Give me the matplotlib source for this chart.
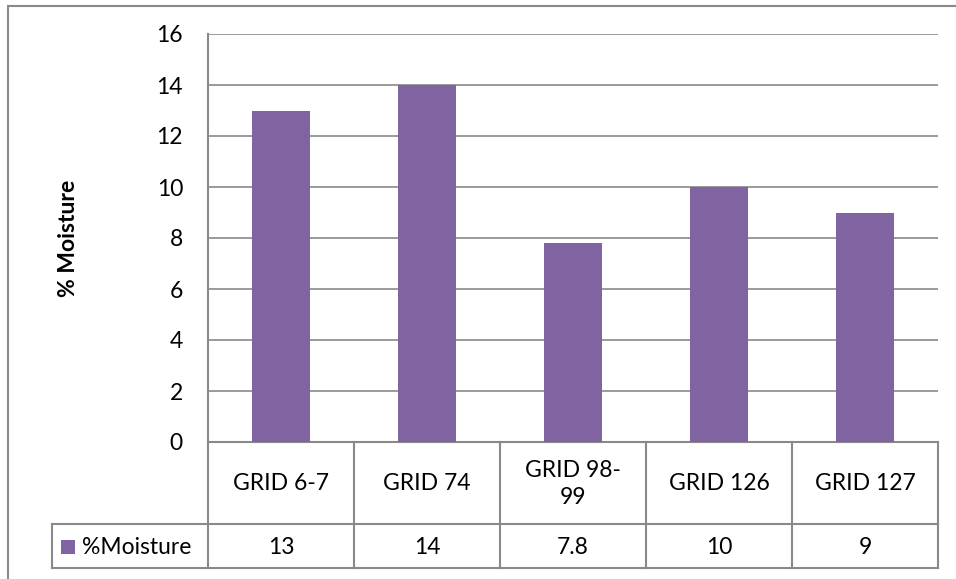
import matplotlib
matplotlib.use("Agg")
import matplotlib.pyplot as plt
from matplotlib.transforms import blended_transform_factory
from matplotlib.patches import Rectangle

categories = ["GRID 6-7", "GRID 74", "GRID 98-\n99", "GRID 126", "GRID 127"]
values = [13, 14, 7.8, 10, 9]
value_labels = ["13", "14", "7.8", "10", "9"]
series_name = "%Moisture"
y_ticks = [0, 2, 4, 6, 8, 10, 12, 14, 16]

plt.rcParams['font.family'] = ['Lato', 'DejaVu Sans']
W, H = 956, 579
fig = plt.figure(figsize=(W/100, H/100), dpi=100)
bar_color = "#8064A2"
gray = "#898989"
fs = 16.5

# outer frame
fig.patches.append(Rectangle((8/W, -0.1), 1.2, 1 - 6/H + 0.1, transform=fig.transFigure,
                             fill=False, edgecolor=gray, linewidth=1.5))

ax_l, ax_r, ax_t, ax_b = 208, 938, 34, 442
ax = fig.add_axes([ax_l/W, (H-ax_b)/H, (ax_r-ax_l)/W, (ax_b-ax_t)/H])
x = list(range(len(categories)))
ax.bar(x, values, width=0.4, color=bar_color, zorder=3)
ax.set_xlim(-0.5, len(categories)-0.5)
ax.set_ylim(0, 16)
ax.set_yticks(y_ticks)
ax.set_yticklabels([str(t) for t in y_ticks], fontsize=fs)
ax.tick_params(axis='y', length=0, pad=18)
ax.set_xticks([])
ax.grid(axis='y', color=gray, linewidth=1.2, zorder=0)
for s in ['top', 'right', 'bottom']:
    ax.spines[s].set_visible(False)
ax.spines['left'].set_color(gray)
ax.spines['left'].set_linewidth(1.5)
ax.set_ylabel("% Moisture", fontsize=fs, fontweight='bold', labelpad=56)

# data table
ah = ax_b - ax_t
aw = ax_r - ax_l
def ay(py):
    return (ax_b - py) / ah
def axx(px):
    return (px - ax_l) / aw

tb = blended_transform_factory(ax.transData, ax.transAxes)
ta = ax.transAxes
r1, r2 = ay(524), ay(568)
lw = 1.5
ax.plot([0, 1], [0, 0], transform=ta, color=gray, lw=lw, clip_on=False)
ax.plot([axx(52), 1], [r1, r1], transform=ta, color=gray, lw=lw, clip_on=False)
ax.plot([axx(52), 1], [r2, r2], transform=ta, color=gray, lw=lw, clip_on=False)
ax.plot([axx(52), axx(52)], [r1, r2], transform=ta, color=gray, lw=lw, clip_on=False)
for i in range(len(categories)+1):
    xb = i - 0.5
    ax.plot([xb, xb], [0, r2], transform=tb, color=gray, lw=lw, clip_on=False)
for i, (c, v) in enumerate(zip(categories, value_labels)):
    ax.text(i, ay(484), c, transform=tb, ha='center', va='center', fontsize=fs,
            linespacing=1.35)
    ax.text(i, ay(547), v, transform=tb, ha='center', va='center', fontsize=fs)
# legend key
sq = 14
ax.add_patch(Rectangle((axx(61), ay(554)), sq/aw, sq/ah, transform=ta,
                       facecolor=bar_color, edgecolor='none', clip_on=False))
ax.text(axx(82), ay(547), series_name, transform=ta, ha='left', va='center', fontsize=fs)

fig.savefig("out.png", dpi=100)
